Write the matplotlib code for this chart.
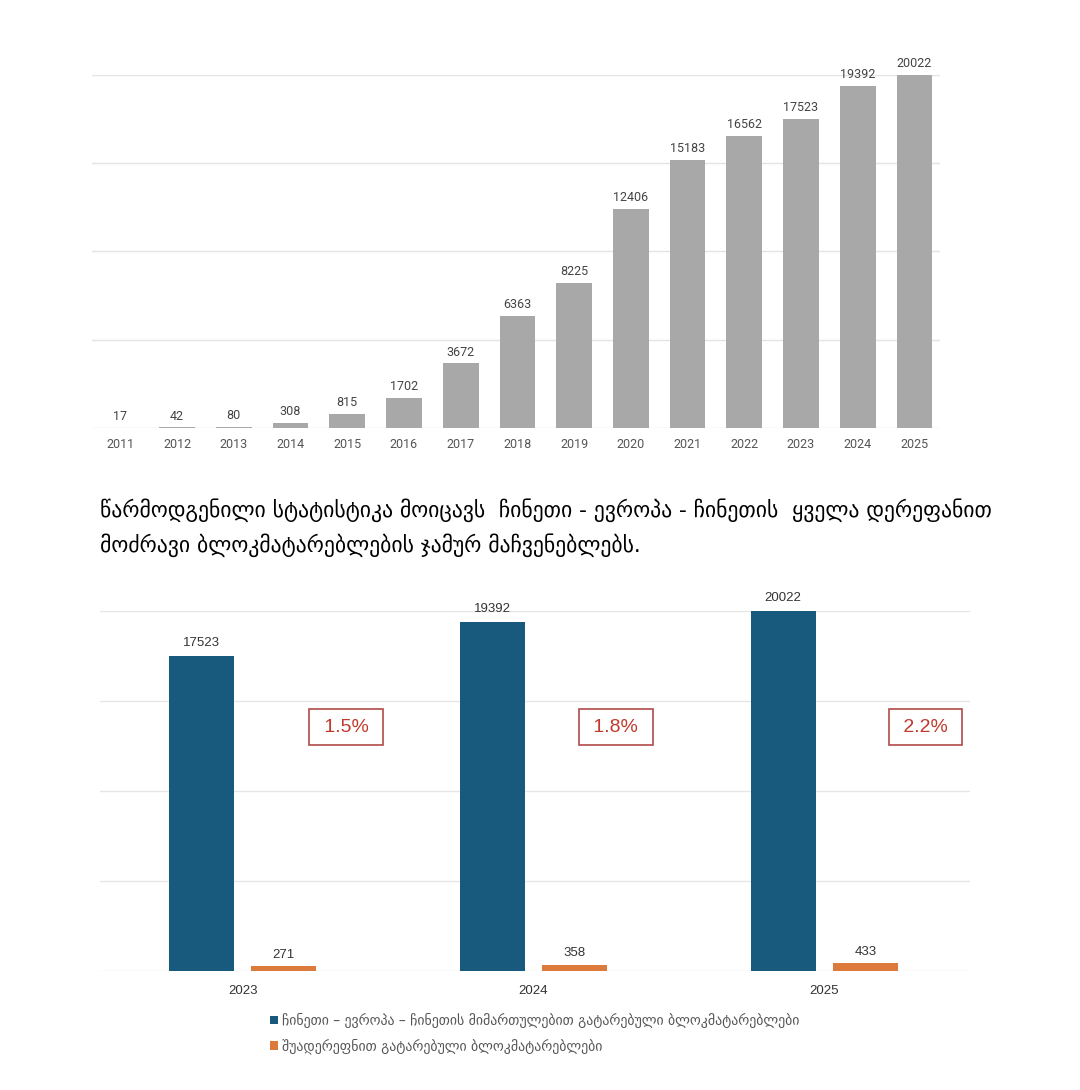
import matplotlib
matplotlib.use("Agg")
import matplotlib.pyplot as plt
import numpy as np

# ---------------- data ----------------
years_all = ["2011", "2012", "2013", "2014", "2015", "2016", "2017", "2018",
             "2019", "2020", "2021", "2022", "2023", "2024", "2025"]
trains_all = [17, 42, 80, 308, 815, 1702, 3672, 6363, 8225, 12406, 15183,
              16562, 17523, 19392, 20022]

years_cmp = ["2023", "2024", "2025"]
trains_cec = [17523, 19392, 20022]
trains_mid = [271, 358, 433]
share_labels = ["1.5%", "1.8%", "2.2%"]

paragraph = ["წარმოდგენილი სტატისტიკა მოიცავს  ჩინეთი - ევროპა - ჩინეთის  ყველა დერეფანით",
             "მოძრავი ბლოკმატარებლების ჯამურ მაჩვენებლებს."]
legend_labels = ["ჩინეთი – ევროპა – ჩინეთის მიმართულებით გატარებული ბლოკმატარებლები",
                 "შუადერეფნით გატარებული ბლოკმატარებლები"]

GRAY = "#a8a8a8"
BLUE = "#185a7d"
ORANGE = "#dc7a3c"
RED = "#c0392b"

W, H = 1080, 1090
fig = plt.figure(figsize=(W / 100, H / 100), dpi=100)
fig.patch.set_facecolor("white")


def px_axes(left, top, right, bottom):
    return fig.add_axes([left / W, 1 - bottom / H, (right - left) / W, (bottom - top) / H])


# ---------------- top chart ----------------
ax1 = px_axes(92, 75, 940, 428)
x1 = np.arange(len(years_all))
bars1 = ax1.bar(x1, trains_all, width=0.63, color=GRAY, zorder=3)
ax1.set_xlim(-0.5, 14.45)
ax1.set_ylim(0, 20000)
ax1.set_yticks(np.arange(0, 20001, 5000))
ax1.set_yticklabels([])
ax1.grid(axis="y", color="#e4e4e4", lw=1, zorder=0)
ax1.set_xticks(x1)
ax1.set_xticklabels(years_all, fontsize=9, color="#555555", family="Roboto")
ax1.tick_params(axis="both", length=0)
ax1.tick_params(axis="x", pad=7.5)
for s in ax1.spines.values():
    s.set_visible(False)
for xi, v in zip(x1, trains_all):
    ax1.annotate(str(v), (xi, v), xytext=(0, 5.5), textcoords="offset points",
                 ha="center", va="baseline", fontsize=9, color="#444444",
                 family="Roboto", annotation_clip=False)

# ---------------- paragraph ----------------
fig.text(100 / W, 1 - 510 / H, paragraph[0], fontsize=15.6, color="black",
         family="DejaVu Sans", va="center", ha="left")
fig.text(100 / W, 1 - 545 / H, paragraph[1], fontsize=15.6, color="black",
         family="DejaVu Sans", va="center", ha="left")

# ---------------- bottom chart ----------------
ax2 = px_axes(100, 611, 970, 971)
x2 = np.arange(len(years_cmp))
bw = 0.223
off = 0.142
b_blue = ax2.bar(x2 - off, trains_cec, width=bw, color=BLUE, zorder=3,
                 label=legend_labels[0])
b_or = ax2.bar(x2 + off, trains_mid, width=bw, color=ORANGE, zorder=3,
               label=legend_labels[1])
ax2.set_xlim(-0.49, 2.5)
ax2.set_ylim(0, 20000)
ax2.set_yticks(np.arange(0, 20001, 5000))
ax2.set_yticklabels([])
ax2.grid(axis="y", color="#e6e6e6", lw=1, zorder=0)
ax2.set_xticks(x2)
ax2.set_xticklabels(years_cmp, fontsize=9.5, color="#333333", family="Liberation Sans")
ax2.tick_params(axis="both", length=0)
ax2.tick_params(axis="x", pad=10)
for s in ax2.spines.values():
    s.set_visible(False)
for xi, v in zip(x2 - off, trains_cec):
    ax2.annotate(str(v), (xi, v), xytext=(0, 7), textcoords="offset points",
                 ha="center", va="baseline", fontsize=9.5, color="#333333",
                 family="Liberation Sans", annotation_clip=False)
for xi, v in zip(x2 + off, trains_mid):
    ax2.annotate(str(v), (xi, v), xytext=(0, 6), textcoords="offset points",
                 ha="center", va="baseline", fontsize=9.5, color="#333333",
                 family="Liberation Sans", annotation_clip=False)

# share boxes
box_x = [0.356, 1.282, 2.347]
for bx, lab in zip(box_x, share_labels):
    ax2.text(bx, 13550, " " + lab + " ", ha="center", va="center", fontsize=14,
             color=RED, family="Liberation Sans", zorder=5,
             bbox=dict(boxstyle="square,pad=0.48", fc="white", ec="#b24a4a", lw=1.2))

# legend
leg = fig.legend(handles=[b_blue, b_or], labels=legend_labels,
                 loc="upper left", bbox_to_anchor=(270 / W, 1 - 1013 / H),
                 frameon=False, fontsize=10, handlelength=0.55, handleheight=0.55,
                 handletextpad=0.35, labelspacing=0.75, borderaxespad=0,
                 borderpad=0)
for t in leg.get_texts():
    t.set_color("#555555")

fig.savefig("out.png", dpi=100, facecolor="white")
